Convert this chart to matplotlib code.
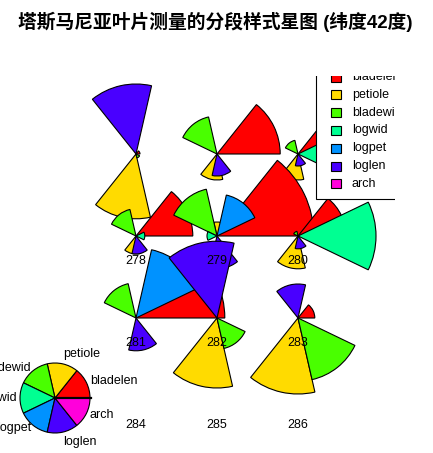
import numpy as np
import matplotlib
matplotlib.use('Agg')
import matplotlib.pyplot as plt
from matplotlib.patches import Wedge, Rectangle

# variables of the segment star plot (standardised leaf measurements)
variables = ['bladelen', 'petiole', 'bladewid', 'logwid', 'logpet', 'loglen', 'arch']
seg_colors = ['#FF0000', '#FFDB00', '#49FF00', '#00FF92', '#0092FF', '#4900FF', '#FF00DB']

# one entry per star, rows of three from the top
star_ids = ['', '', '', '278', '279', '280', '281', '282', '283', '284', '285', '286']
bladelen = [0.10, 1.58, 1.00, 1.42, 2.42, 1.20, 2.22, 0.00, 0.42, 0, 0, 0]
petiole  = [-1.62, -0.65, -0.65, -0.45, 0.35, -0.82, 0.00, -1.75, -1.90, 0, 0, 0]
bladewid = [-0.10, 0.95, 0.35, 0.68, 1.20, 0.12, 0.88, -0.78, -1.58, 0, 0, 0]
logwid   = [0.00, 0.00, -0.62, -0.22, 0.25, -1.95, 0.00, 0.00, 0.00, 0, 0, 0]
logpet   = [0.00, 0.00, 0.00, 0.00, -1.05, 0.00, -1.75, 0.00, 0.00, 0, 0, 0]
loglen   = [-1.75, 0.55, 0.30, 0.45, 0.82, 0.32, 0.82, -1.92, -0.85, 0, 0, 0]
arch     = [0.00] * 12

values = np.array([bladelen, petiole, bladewid, logwid, logpet, loglen, arch])

title = '塔斯马尼亚叶片测量的分段样式星图 (纬度42度)'

W, H, DPI = 433, 453, 100
fig = plt.figure(figsize=(W / DPI, H / DPI), dpi=DPI)
# plot region (clips the legend on the top and on the right)
ax = fig.add_axes([0, 0, 395 / W, (H - 76) / H])
ax.set_xlim(0, 395)
ax.set_ylim(0, H - 76)
ax.axis('off')

scale = 40.0          # pixels per unit
seg = 360.0 / len(variables)
x0, dx = 136, 81
y0, dy = H - 154, 82
lab_font = dict(family=['Liberation Sans', 'DejaVu Sans'], fontsize=9)

for i, sid in enumerate(star_ids):
    row, col = divmod(i, 3)
    cx, cy = x0 + dx * col, y0 - dy * row
    for j in range(len(variables)):
        v = values[j, i]
        if v == 0:
            continue
        t1, t2 = j * seg, (j + 1) * seg
        if v < 0:   # negative values point the other way
            t1, t2 = t1 + 180, t2 + 180
        ax.add_patch(Wedge((cx, cy), abs(v) * scale, t1, t2,
                           facecolor=seg_colors[j], edgecolor='black', lw=0.8))

for i, sid in enumerate(star_ids):
    row, col = divmod(i, 3)
    cx, cy = x0 + dx * col, y0 - dy * row
    ax.text(cx, cy - 25, sid, ha='center', va='center', **lab_font)

# key circle
kx, ky, kr = x0 - dx, y0 - 3 * dy + 2, 35
for j, name in enumerate(variables):
    ax.add_patch(Wedge((kx, ky), kr, j * seg, (j + 1) * seg,
                       facecolor=seg_colors[j], edgecolor='black', lw=0.8))
    a = np.deg2rad((j + 0.5) * seg)
    lx, ly = kx + 1.1 * kr * np.cos(a), ky + 1.1 * kr * np.sin(a)
    ha = 'left' if np.cos(a) > 0 else 'right'
    va = 'bottom' if np.sin(a) > 0.9 else ('top' if np.sin(a) < -0.9 else 'center')
    ax.text(lx, ly, name, ha=ha, va=va, clip_on=False, **lab_font)
ax.plot([kx, kx + kr + 1], [ky, ky], color='black', lw=1.6)

# legend box
ax.add_patch(Rectangle((316, H - 199), 120, 170, facecolor='white',
                       edgecolor='black', lw=0.8, zorder=5))
for j, name in enumerate(variables):
    yy = H - 77 - 17.8 * j
    ax.add_patch(Rectangle((331, yy - 4.5), 10, 9, facecolor=seg_colors[j],
                           edgecolor='black', lw=0.8, zorder=6))
    ax.text(352, yy, name, ha='left', va='center', zorder=7, clip_on=True, **lab_font)

fig.text(0.497, 1 - 22 / H, title, ha='center', va='center', fontsize=13.5,
         fontweight='bold', family=['Liberation Sans', 'Noto Sans CJK SC'])

fig.savefig('out.png', dpi=DPI)
